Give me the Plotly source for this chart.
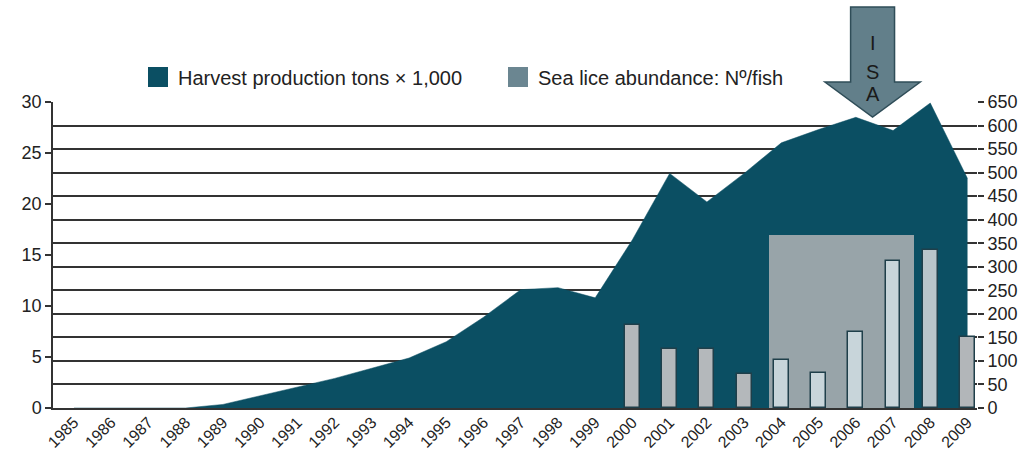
import plotly.graph_objects as go

# ---- data ----
years = list(range(1985, 2010))
harvest_k_tons = [0, 0, 0, 0, 0.35, 1.2, 2.0, 2.9, 3.9, 4.9, 6.5, 8.9, 11.6, 11.8,
                  10.8, 16.5, 23.0, 20.2, 23.0, 26.0, 27.3, 28.5, 27.2, 29.9, 22.5]
lice_years = list(range(2000, 2010))
lice_per_fish = [176, 125, 125, 72, 102, 75, 161, 313, 336, 151]
lice_colors = ["#b4b8bb", "#b4b8bb", "#b4b8bb", "#b4b8bb",
               "#c8d5da", "#c8d5da", "#c8d5da", "#c8d5da",
               "#b9c5ca", "#b2b6b9"]
isa_start, isa_end, isa_level = 2003.66, 2007.55, 367
isa_year = 2006.45
left_ticks = [0, 5, 10, 15, 20, 25, 30]
right_ticks = list(range(0, 651, 50))
legend_names = ["Harvest production tons \u00d7 1,000", "Sea lice abundance: N\u00ba/fish"]

TEAL = "#0b4f63"
DARK = "#333333"
FONT = "Liberation Sans, Arial, Helvetica, sans-serif"

fig = go.Figure()

fig.add_trace(go.Scatter(
    x=years, y=harvest_k_tons, mode="lines", fill="tozeroy",
    line=dict(color=TEAL, width=0.5), fillcolor=TEAL,
    showlegend=False, hoverinfo="x+y", yaxis="y"))

fig.add_trace(go.Bar(
    x=[(isa_start + isa_end) / 2], y=[isa_level], width=[isa_end - isa_start],
    marker=dict(color="#98a4a9", line=dict(width=0)),
    showlegend=False, yaxis="y2"))

fig.add_trace(go.Bar(
    x=lice_years, y=lice_per_fish, width=0.4,
    marker=dict(color=lice_colors, line=dict(color="#1f3f4a", width=1.5)),
    showlegend=False, yaxis="y2"))

# legend entries
for name, col in zip(legend_names, [TEAL, "#6b8691"]):
    fig.add_trace(go.Scatter(
        x=[None], y=[None], mode="markers", name=name,
        marker=dict(symbol="square", size=20, color=col,
                    line=dict(color=col, width=4))))

# ISA arrow
y_top, y_shaft, y_tip = (408 - 7) / 306, (408 - 82) / 306, (408 - 117) / 306
sw, hw = 0.59, 1.28
path = (f"M {isa_year - sw},{y_top} L {isa_year + sw},{y_top} L {isa_year + sw},{y_shaft} "
        f"L {isa_year + hw},{y_shaft} L {isa_year},{y_tip} L {isa_year - hw},{y_shaft} "
        f"L {isa_year - sw},{y_shaft} Z")
fig.add_shape(type="path", path=path, xref="x", yref="paper",
              fillcolor="#627f8a", line=dict(color="#2f4d58", width=1.5), layer="above")
for letter, py in zip(["I", "S", "A"], [30, 59, 81]):
    fig.add_annotation(x=isa_year, y=(408 - py) / 306, xref="x", yref="paper",
                       text=letter, showarrow=False,
                       font=dict(size=20, color="#1a1a1a", family=FONT))

fig.update_layout(
    width=1030, height=454,
    margin=dict(l=53, r=53, t=102, b=46, autoexpand=False),
    paper_bgcolor="white", plot_bgcolor="white",
    font=dict(family=FONT, color="#222222"),
    barmode="overlay", bargap=0,
    showlegend=True,
    legend=dict(orientation="h", x=(138 - 53) / 924, xanchor="left",
                y=(408 - 77) / 306, yanchor="middle",
                font=dict(size=20, family=FONT, color="#222222"),
                entrywidth=315, entrywidthmode="pixels",
                bgcolor="rgba(0,0,0,0)", itemsizing="trace"),
    xaxis=dict(range=[1984.436, 2009.255], tickmode="array", tickvals=years,
               ticktext=[str(y) for y in years], tickangle=-45,
               tickfont=dict(size=16, family=FONT, color="#222222"),
               ticklabelstandoff=-3,
               showgrid=False, zeroline=False, showline=True,
               linecolor=DARK, linewidth=1.5, ticks="", automargin=False),
    yaxis=dict(range=[0, 30], tickmode="array", tickvals=left_ticks,
               showgrid=False, zeroline=False, showline=True,
               linecolor=DARK, linewidth=1.5, ticks="outside", ticklen=6,
               tickcolor=DARK, tickwidth=1.5,
               tickfont=dict(size=18, family=FONT, color="#222222"),
               automargin=False),
    yaxis2=dict(range=[0, 650], overlaying="y", side="right",
                tickmode="array", tickvals=right_ticks,
                showgrid=True, gridcolor=DARK, gridwidth=1.5,
                zeroline=False, showline=False,
                ticks="outside", ticklen=6, tickcolor=DARK, tickwidth=1.5,
                tickfont=dict(size=18, family=FONT, color="#222222"),
                automargin=False),
)

fig.write_html("out.html", config={"displayModeBar": False},
               post_script="document.body.style.margin='0px';")
